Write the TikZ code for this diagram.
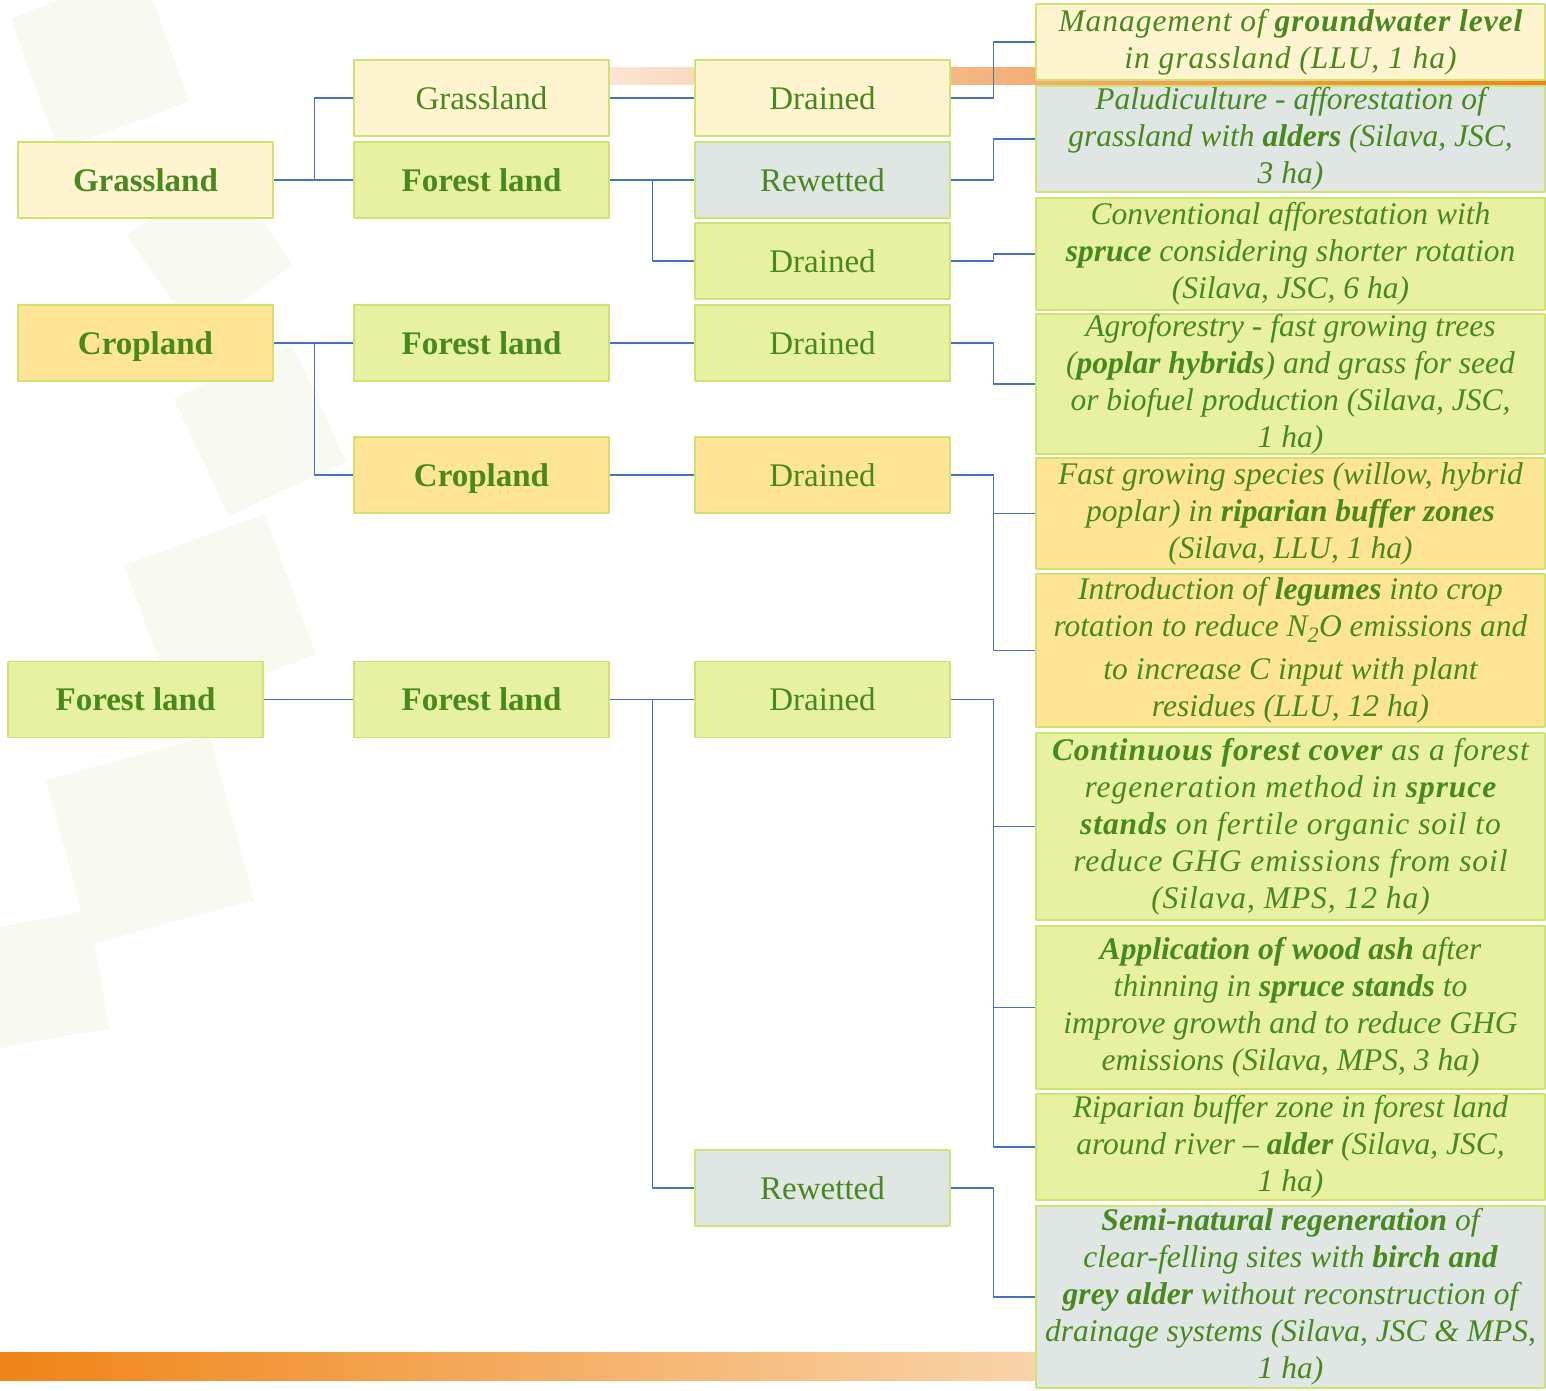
\documentclass[tikz,border=0pt]{standalone}
\usepackage{fontspec}
\setmainfont{Liberation Serif}
\newfontfamily\spacedserif[LetterSpace=3]{Liberation Serif}
\definecolor{txtgreen}{RGB}{72,137,30}
\definecolor{boxedge}{RGB}{205,228,110}
\definecolor{linkblue}{RGB}{68,114,196}
\definecolor{paleyel}{RGB}{254,245,208}
\definecolor{cropyel}{RGB}{254,229,149}
\definecolor{forgreen}{RGB}{232,241,162}
\definecolor{wetgrey}{RGB}{223,230,228}
\definecolor{peachlight}{RGB}{251,229,210}
\definecolor{peachmid}{RGB}{243,173,114}
\definecolor{orangedark}{RGB}{239,132,22}
\definecolor{orangelight}{RGB}{249,212,170}
\definecolor{leafshade}{RGB}{248,249,241}
\begin{document}
\begin{tikzpicture}[x=1pt, y=-1pt, line join=round,
	box/.style={draw=boxedge, line width=1.5pt, minimum width=255pt, minimum height=76pt, inner sep=0pt, text height=24pt, text depth=2pt, text=txtgreen, font=\fontsize{33}{40}\selectfont},
	lab/.style={box, font=\fontsize{33}{40}\selectfont\bfseries},
	measure/.style={draw=boxedge, line width=1.5pt, minimum width=509pt, inner sep=0pt, align=center, text=txtgreen, font=\fontsize{31.5}{37}\selectfont\itshape},
	widemeasure/.style={measure, font=\spacedserif\fontsize{31.5}{37}\selectfont\itshape},
	link/.style={draw=linkblue, line width=1.3pt}]
	\useasboundingbox (0,0) rectangle (1546,1390);
	\foreach \lx/\ly/\ls/\la in {100/60/140/20, 210/250/120/35, 260/430/130/25, 220/610/150/20, 150/840/170/15, 40/980/120/10}
		\fill[leafshade, rotate around={\la:(\lx,\ly)}] (\lx-\ls/2,\ly-\ls/2) rectangle (\lx+\ls/2,\ly+\ls/2);
	\shade[left color=peachlight, right color=peachmid] (610,67) rectangle (1036,84);
	\shade[left color=peachmid, right color=orangedark] (1036,80) rectangle (1546,85);
	\shade[left color=orangedark, right color=orangelight] (0,1352) rectangle (1036,1380);
	\node[lab, fill=paleyel] (gr1) at (145.5,180) {Grassland};
	\node[lab, fill=cropyel] (cr1) at (145.5,343) {Cropland};
	\node[lab, fill=forgreen] (fo1) at (135.5,699.5) {Forest land};
	\node[box, fill=paleyel] (gr2) at (481.5,98) {Grassland};
	\node[lab, fill=forgreen] (fo2) at (481.5,180) {Forest land};
	\node[lab, fill=forgreen] (fo3) at (481.5,343) {Forest land};
	\node[lab, fill=cropyel] (cr2) at (481.5,475) {Cropland};
	\node[lab, fill=forgreen] (fo4) at (481.5,699.5) {Forest land};
	\node[box, fill=paleyel] (dr1) at (822.5,98) {Drained};
	\node[box, fill=wetgrey] (rw1) at (822.5,180) {Rewetted};
	\node[box, fill=forgreen] (dr2) at (822.5,261) {Drained};
	\node[box, fill=forgreen] (dr3) at (822.5,343) {Drained};
	\node[box, fill=cropyel] (dr4) at (822.5,475) {Drained};
	\node[box, fill=forgreen] (dr5) at (822.5,699.5) {Drained};
	\node[box, fill=wetgrey] (rw2) at (822.5,1188) {Rewetted};
	\node[widemeasure, fill=paleyel, minimum height=76pt] (m1) at (1290.5,42) {Management of \textbf{groundwater level}\\in grassland (LLU, 1 ha)};
	\node[measure, fill=wetgrey, minimum height=106pt] (m2) at (1290.5,139) {Paludiculture - afforestation of\\grassland with \textbf{alders} (Silava, JSC,\\3 ha)};
	\node[measure, fill=forgreen, minimum height=112pt] (m3) at (1290.5,254) {Conventional afforestation with\\\textbf{spruce} considering shorter rotation\\(Silava, JSC, 6 ha)};
	\node[measure, fill=forgreen, minimum height=138pt] (m4) at (1290.5,384) {Agroforestry - fast growing trees\\(\textbf{poplar hybrids}) and grass for seed\\or biofuel production (Silava, JSC,\\1 ha)};
	\node[measure, fill=cropyel, minimum height=111pt] (m5) at (1290.5,513.5) {Fast growing species (willow, hybrid\\poplar) in \textbf{riparian buffer zones}\\(Silava, LLU, 1 ha)};
	\node[measure, fill=cropyel, minimum height=153pt] (m6) at (1290.5,650.5) {Introduction of \textbf{legumes} into crop\\rotation to reduce N\textsubscript{2}O emissions and\\[6pt]to increase C input with plant\\residues (LLU, 12 ha)};
	\node[widemeasure, fill=forgreen, minimum height=187pt] (m7) at (1290.5,826.5) {\textbf{Continuous forest cover} as a forest\\regeneration method in \textbf{spruce}\\\textbf{stands} on fertile organic soil to\\reduce GHG emissions from soil\\(Silava, MPS, 12 ha)};
	\node[measure, fill=forgreen, minimum height=163pt] (m8) at (1290.5,1007.5) {\textbf{Application of wood ash} after\\thinning in \textbf{spruce stands} to\\improve growth and to reduce GHG\\emissions (Silava, MPS, 3 ha)};
	\node[measure, fill=forgreen, minimum height=106pt] (m9) at (1290.5,1147) {Riparian buffer zone in forest land\\around river -- \textbf{alder} (Silava, JSC,\\1 ha)};
	\node[measure, fill=wetgrey, minimum height=182pt] (m10) at (1290.5,1297) {\textbf{Semi-natural regeneration} of\\clear-felling sites with \textbf{birch and}\\\textbf{grey alder} without reconstruction of\\drainage systems (Silava, JSC \& MPS,\\1 ha)};
	\foreach \a/\b in {gr1/gr2, gr1/fo2, cr1/fo3, cr1/cr2} \draw[link] (\a.east) -- ++(41,0) |- (\b.west);
	\foreach \a/\b in {gr2/dr1, fo2/rw1, fo2/dr2, fo3/dr3, cr2/dr4, fo4/dr5, fo4/rw2} \draw[link] (\a.east) -- ++(43,0) |- (\b.west);
	\foreach \a/\b in {dr1/m1, rw1/m2, dr2/m3, dr3/m4, dr4/m5, dr4/m6, dr5/m7, dr5/m8, dr5/m9, rw2/m10} \draw[link] (\a.east) -- ++(43,0) |- (\b.west);
	\draw[link] (fo1) -- (fo4);
\end{tikzpicture}
\end{document}
